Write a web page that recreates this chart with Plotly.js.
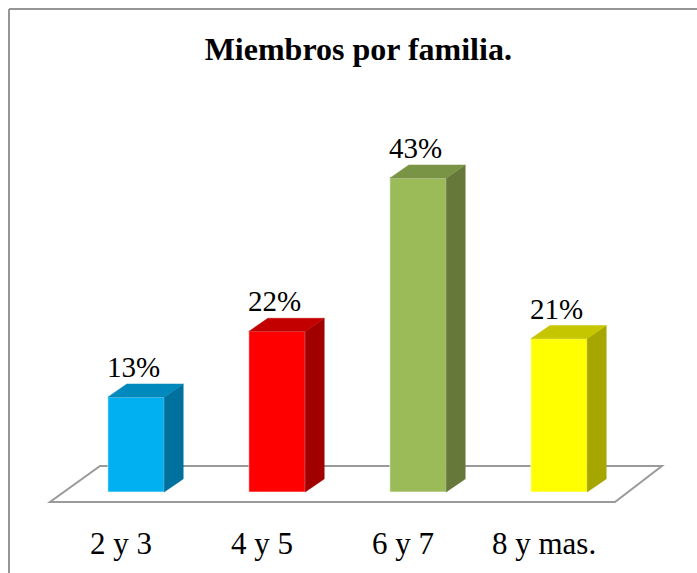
<!DOCTYPE html>
<html>
<head>
<meta charset="utf-8">
<script src="https://cdn.plot.ly/plotly-3.0.1.min.js"></script>
<style>html,body{margin:0;padding:0;background:#fff;}#chart{width:697px;height:573px;}</style>
</head>
<body>
<div id="chart"></div>
<script>
const categories = ['2 y 3', '4 y 5', '6 y 7', '8 y mas.'];
const values = [13, 22, 43, 21];
const valueLabels = ['13%', '22%', '43%', '21%'];
const frontColors = ['#00B0F0', '#FF0000', '#9BBB59', '#FFFF00'];
const sideColors = ['#00719C', '#A00000', '#66783A', '#A6A600'];
const topColors = ['#0089BC', '#C20000', '#7A9446', '#C6C600'];

const SERIF = 'Times New Roman';

// 3D geometry (in axis units)
const halfW = 0.2;
const depthX = 0.135;
const depthY = 1.8;
const floorBackY = 3.56, floorFrontY = -1.37;
const floorBackX = [-0.255, 3.73], floorFrontX = [-0.61, 3.397];
const labelShift = -0.106;

const idx = categories.map((c, i) => i);
const traces = [];

// front faces
traces.push({
  type: 'bar', x: idx, y: values, width: 2 * halfW,
  marker: {color: frontColors, line: {color: 'rgba(255,255,255,0.6)', width: 1}},
  hoverinfo: 'skip', showlegend: false
});

idx.forEach(i => {
  const v = values[i];
  // side face
  traces.push({
    type: 'scatter', mode: 'lines', fill: 'toself', fillcolor: sideColors[i],
    x: [i + halfW, i + halfW + depthX, i + halfW + depthX, i + halfW, i + halfW],
    y: [0, depthY, v + depthY, v, 0],
    line: {color: sideColors[i], width: 0.5}, hoverinfo: 'skip', showlegend: false
  });
  // top face
  traces.push({
    type: 'scatter', mode: 'lines', fill: 'toself', fillcolor: topColors[i],
    x: [i - halfW, i + halfW, i + halfW + depthX, i - halfW + depthX, i - halfW],
    y: [v, v, v + depthY, v + depthY, v],
    line: {color: topColors[i], width: 0.5}, hoverinfo: 'skip', showlegend: false
  });
});

const annotations = idx.map(i => ({
  x: i - 0.02, y: values[i] + depthY, xref: 'x', yref: 'y',
  text: valueLabels[i], showarrow: false, yanchor: 'bottom', yshift: -1,
  font: {family: SERIF, size: 29, color: '#000'}
}));

const floorPath = 'M ' + floorBackX[0] + ' ' + floorBackY +
  ' L ' + floorBackX[1] + ' ' + floorBackY +
  ' L ' + floorFrontX[1] + ' ' + floorFrontY +
  ' L ' + floorFrontX[0] + ' ' + floorFrontY + ' Z';

const layout = {
  width: 697, height: 573,
  margin: {l: 0, r: 0, t: 0, b: 66},
  paper_bgcolor: '#fff', plot_bgcolor: 'rgba(0,0,0,0)',
  font: {family: SERIF, color: '#000'},
  title: {
    text: '<b>Miembros por familia.</b>',
    font: {family: SERIF, size: 32, color: '#000'},
    x: 0.514, xanchor: 'center', xref: 'container',
    y: 1 - 49 / 573, yanchor: 'middle', yref: 'container'
  },
  xaxis: {
    range: [-0.9645, 3.9787], showgrid: false, zeroline: false, showline: false,
    tickvals: idx.map(i => i + labelShift), ticktext: categories,
    ticks: 'outside', ticklen: 9, tickcolor: 'rgba(0,0,0,0)',
    tickfont: {family: SERIF, size: 31, color: '#000'},
    fixedrange: true
  },
  yaxis: {
    range: [-2.05, 67.4], showgrid: false, zeroline: false, showline: false,
    showticklabels: false, ticks: '', fixedrange: true
  },
  shapes: [
    {type: 'path', xref: 'x', yref: 'y', layer: 'below', path: floorPath,
     fillcolor: '#ffffff', line: {color: '#9a9a9a', width: 2}},
    {type: 'line', xref: 'paper', yref: 'paper', x0: 9 / 697, x1: 1.01, y0: 1 - 9 / 507, y1: 1 - 9 / 507, line: {color: '#959595', width: 2}},
    {type: 'line', xref: 'paper', yref: 'paper', x0: 9 / 697, x1: 9 / 697, y0: 1 - 9 / 507, y1: -0.2, line: {color: '#959595', width: 2}}
  ],
  annotations: annotations,
  showlegend: false
};

Plotly.newPlot('chart', traces, layout, {displayModeBar: false, staticPlot: true});
</script>
</body>
</html>
